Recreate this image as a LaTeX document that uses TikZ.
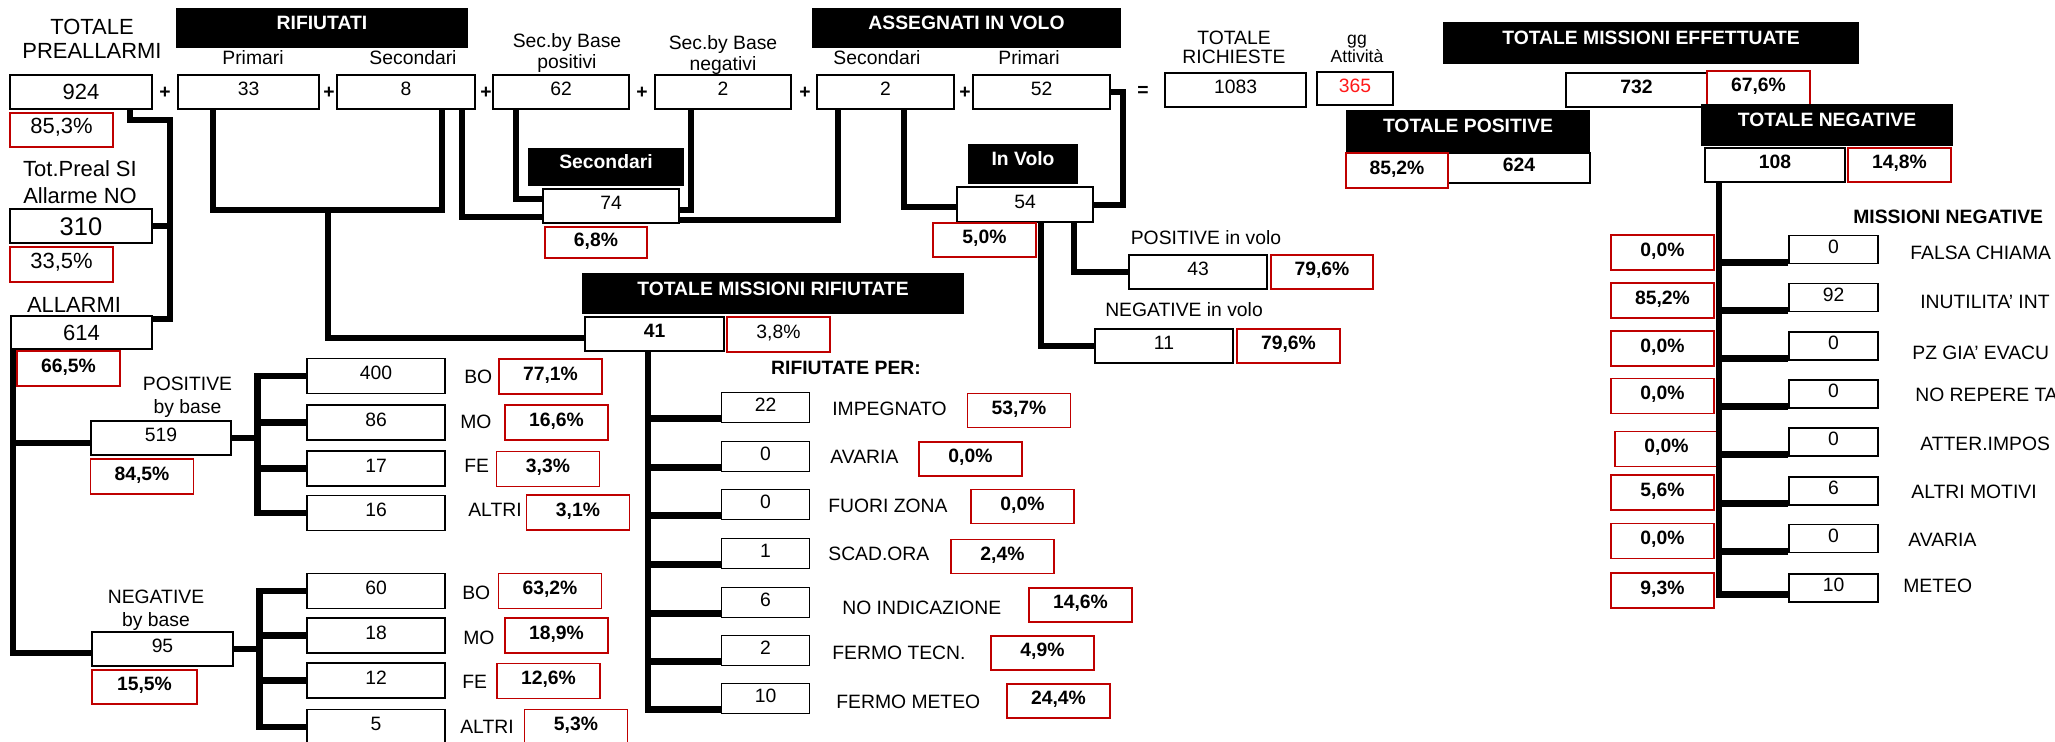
\documentclass[tikz,border=0pt]{standalone}
\usepackage{fontspec}
\setmainfont{Liberation Sans}
\usepackage[dvipsnames]{xcolor}
\colorlet{colorPct}{red!75!black}
\colorlet{colorDays}{red!90!white}
\usepackage{tikz}

\begin{document}
\begin{tikzpicture}[x=0.02cm, y=-0.02cm,
  every node/.style={font=\fontsize{11}{13}\selectfont, inner sep=0pt},
  sz/.style 2 args={minimum width=#1*0.02cm, minimum height=#2*0.02cm},
  num/.style={draw=black, line width=0.9pt, fill=white, text height=0.28cm, text depth=0.12cm},
  bnum/.style={num, font=\fontsize{11}{13}\selectfont\bfseries},
  bignum/.style={num, font=\fontsize{12.5}{15}\selectfont, text height=0.32cm, text depth=0cm},
  pct/.style={draw=colorPct, line width=0.9pt, fill=white, text height=0.28cm, text depth=0.12cm, font=\fontsize{11}{13}\selectfont\bfseries},
  rpct/.style={pct, font=\fontsize{12.5}{15}\selectfont},
  hdr/.style={fill=black, text=white, font=\fontsize{11}{13}\selectfont\bfseries, text height=0.28cm, text depth=0.2cm},
  lbl/.style={align=center},
  link/.style={line width=3.8pt}]
\useasboundingbox (0,0) rectangle (2055,742);
\fill[white] (0,0) rectangle (2055,742);
\clip (0,0) rectangle (2055,742);

\node[lbl, font=\fontsize{12.5}{13.6}\selectfont] (tpl) at (92,39) {TOTALE\\PREALLARMI};
\node[bignum, sz={142}{34}] (pre) at (81,92) {924};
\node[rpct, sz={103}{34}] (prepct) at (61.5,130) {85,3\%};
\node[lbl, font=\fontsize{12.5}{15.3}\selectfont] (ltps) at (80,182.5) {Tot.Preal SI\\Allarme NO};
\node[num, sz={142}{34}, font=\fontsize{14.5}{17}\selectfont, text height=0.37cm, text depth=0cm] (sino) at (81,226) {310};
\node[rpct, sz={103}{35}] (sinopct) at (61.5,264.5) {33,5\%};
\node[font=\fontsize{12.5}{15}\selectfont] (lall) at (74,305) {ALLARMI};
\node[bignum, sz={141}{33}] (all) at (81.5,332.5) {614};
\node[pct, sz={103}{35}] (allpct) at (68.5,368.5) {66,5\%};

\node[hdr, sz={292}{40}] (hrif) at (322,28) {RIFIUTATI};
\node (lrp) at (253,58) {Primari};
\node (lrs) at (413,58) {Secondari};
\node[num, sz={141}{34}] (rp) at (248.5,92) {33};
\node[num, sz={138}{34}] (rs) at (406,92) {8};
\node[lbl, font=\fontsize{11}{11.4}\selectfont] (lsbp) at (567,53) {Sec.by Base\\positivi};
\node[num, sz={136}{34}] (sbp) at (561,92) {62};
\node[lbl, font=\fontsize{11}{11.4}\selectfont] (lsbn) at (723,55) {Sec.by Base\\negativi};
\node[num, sz={136}{34}] (sbn) at (723,92) {2};
\node[hdr, sz={309}{40}] (hass) at (966.5,28) {ASSEGNATI IN VOLO};
\node (las) at (877,58) {Secondari};
\node (lap) at (1029,58) {Primari};
\node[num, sz={137}{34}] (as) at (885.5,92) {2};
\node[num, sz={137}{34}] (ap) at (1041.5,92) {52};
\node[font=\fontsize{11}{13}\selectfont\bfseries] (pl1) at (165,93) {+};
\node[font=\fontsize{11}{13}\selectfont\bfseries] (pl2) at (329,93) {+};
\node[font=\fontsize{11}{13}\selectfont\bfseries] (pl3) at (486,93) {+};
\node[font=\fontsize{11}{13}\selectfont\bfseries] (pl4) at (642,93) {+};
\node[font=\fontsize{11}{13}\selectfont\bfseries] (pl5) at (805,93) {+};
\node[font=\fontsize{11}{13}\selectfont\bfseries] (pl6) at (965,93) {+};
\node[font=\fontsize{11}{13}\selectfont\bfseries] (eq) at (1143,91) {=};
\node[lbl, font=\fontsize{11}{10.8}\selectfont] (lric) at (1234,47.5) {TOTALE\\RICHIESTE};
\node[num, sz={141}{34}] (ric) at (1235.5,90) {1083};
\node[lbl, font=\fontsize{10}{10.2}\selectfont] (lgg) at (1357,49) {gg\\Attività};
\node[num, sz={76}{33}, text=colorDays] (gg) at (1355,88.5) {365};

\node[hdr, sz={416}{42}] (heff) at (1651,43) {TOTALE MISSIONI EFFETTUATE};
\node[bnum, sz={141}{34}] (eff) at (1636.5,90) {732};
\node[pct, sz={103}{34}] (effpct) at (1758.5,88) {67,6\%};
\node[hdr, sz={244}{42}] (hpos) at (1468,131) {TOTALE POSITIVE};
\node[bnum, sz={142}{30}] (pos) at (1519,168) {624};
\node[pct, sz={102}{35}] (pospct) at (1397,170.5) {85,2\%};
\node[hdr, sz={252}{42}] (hneg) at (1827,125) {TOTALE NEGATIVE};
\node[bnum, sz={140}{34}] (neg) at (1775,165) {108};
\node[pct, sz={103}{34}] (negpct) at (1899.5,165) {14,8\%};

\node[hdr, sz={156}{38}] (hsec) at (606,167) {Secondari};
\node[num, sz={136}{34}] (sec) at (611,206) {74};
\node[pct, sz={102}{31}] (secpct) at (596,242.5) {6,8\%};
\node[hdr, sz={110}{40}] (hvol) at (1023,164) {In Volo};
\node[num, sz={136}{35}] (vol) at (1025,204.5) {54};
\node[pct, sz={103}{34}] (volpct) at (984.5,240) {5,0\%};
\node (lpv) at (1206,238) {POSITIVE in volo};
\node[num, sz={138}{34}] (pv) at (1198,272) {43};
\node[pct, sz={102}{34}] (pvpct) at (1322,272) {79,6\%};
\node (lnv) at (1184,310) {NEGATIVE in volo};
\node[num, sz={138}{34}] (nv) at (1164,346) {11};
\node[pct, sz={103}{34}] (nvpct) at (1288.5,346) {79,6\%};

\node[hdr, sz={382}{41}] (hmr) at (773,293.5) {TOTALE MISSIONI RIFIUTATE};
\node[bnum, sz={139}{34}] (rif) at (654.5,334) {41};
\node[pct, sz={103}{35}, font=\fontsize{11}{13}\selectfont] (rifpct) at (778.5,334.5) {3,8\%};
\node[font=\fontsize{11}{13}\selectfont\bfseries] (lper) at (846,368) {RIFIUTATE PER:};
\node[num, sz={88}{30}] (r1) at (765.5,407.5) {22};
\node[num, sz={88}{30}] (r2) at (765.5,456.5) {0};
\node[num, sz={88}{30}] (r3) at (765.5,504.5) {0};
\node[num, sz={88}{30}] (r4) at (765.5,553.5) {1};
\node[num, sz={88}{30}] (r5) at (765.5,602.5) {6};
\node[num, sz={88}{30}] (r6) at (765.5,650.5) {2};
\node[num, sz={88}{30}] (r7) at (765.5,698.5) {10};
\node[anchor=west] (rl1) at (832,409) {IMPEGNATO};
\node[anchor=west] (rl2) at (830,457) {AVARIA};
\node[anchor=west] (rl3) at (828,506) {FUORI ZONA};
\node[anchor=west] (rl4) at (828,554) {SCAD.ORA};
\node[anchor=west] (rl5) at (842,608) {NO INDICAZIONE};
\node[anchor=west] (rl6) at (832,653) {FERMO TECN.};
\node[anchor=west] (rl7) at (836,702) {FERMO METEO};
\node[pct, sz={103}{34}] (rp1) at (1019,410.5) {53,7\%};
\node[pct, sz={103}{34}] (rp2) at (970.5,459) {0,0\%};
\node[pct, sz={103}{34}] (rp3) at (1022.5,506.5) {0,0\%};
\node[pct, sz={103}{34}] (rp4) at (1002.5,556.5) {2,4\%};
\node[pct, sz={103}{34}] (rp5) at (1080.5,605) {14,6\%};
\node[pct, sz={103}{34}] (rp6) at (1042.5,653) {4,9\%};
\node[pct, sz={103}{34}] (rp7) at (1058.5,701) {24,4\%};

\node[lbl] (lpb) at (187.5,397.5) {POSITIVE\\by base};
\node[num, sz={140}{34}] (pb) at (161,438) {519};
\node[pct, sz={103}{35}] (pbpct) at (142,476.5) {84,5\%};
\node[num, sz={138}{35}] (pb1) at (376,376) {400};
\node[num, sz={138}{35}] (pb2) at (376,422.5) {86};
\node[num, sz={138}{35}] (pb3) at (376,468.5) {17};
\node[num, sz={138}{35}] (pb4) at (376,513) {16};
\node[anchor=west] (pbl1) at (464,377) {BO};
\node[anchor=west] (pbl2) at (460,422) {MO};
\node[anchor=west] (pbl3) at (464,466) {FE};
\node[anchor=west] (pbl4) at (468,510) {ALTRI};
\node[pct, sz={103}{35}] (pbp1) at (550.5,376.5) {77,1\%};
\node[pct, sz={103}{35}] (pbp2) at (556.5,422.5) {16,6\%};
\node[pct, sz={103}{35}] (pbp3) at (548,469) {3,3\%};
\node[pct, sz={103}{35}] (pbp4) at (578,512.5) {3,1\%};

\node[lbl] (lnb) at (156,610.5) {NEGATIVE\\by base};
\node[num, sz={141}{34}] (nb) at (162.5,649) {95};
\node[pct, sz={105}{34}] (nbpct) at (144.5,687) {15,5\%};
\node[num, sz={138}{35}] (nb1) at (376,591) {60};
\node[num, sz={138}{35}] (nb2) at (376,635.5) {18};
\node[num, sz={138}{35}] (nb3) at (376,680.5) {12};
\node[num, sz={138}{35}] (nb4) at (376,727) {5};
\node[anchor=west] (nbl1) at (462,593) {BO};
\node[anchor=west] (nbl2) at (463,638) {MO};
\node[anchor=west] (nbl3) at (462,682) {FE};
\node[anchor=west] (nbl4) at (460,727) {ALTRI};
\node[pct, sz={103}{35}] (nbp1) at (550,591) {63,2\%};
\node[pct, sz={103}{35}] (nbp2) at (556.5,635.5) {18,9\%};
\node[pct, sz={103}{35}] (nbp3) at (548.5,681) {12,6\%};
\node[pct, sz={103}{35}] (nbp4) at (576,727) {5,3\%};

\node[anchor=west, font=\fontsize{11}{13}\selectfont\bfseries] (lmn) at (1853,217) {MISSIONI NEGATIVE};
\node[num, sz={89}{28}] (m1) at (1833.5,249.5) {0};
\node[num, sz={89}{28}] (m2) at (1833.5,297.5) {92};
\node[num, sz={89}{28}] (m3) at (1833.5,346) {0};
\node[num, sz={89}{28}] (m4) at (1833.5,394) {0};
\node[num, sz={89}{28}] (m5) at (1833.5,442) {0};
\node[num, sz={89}{28}] (m6) at (1833.5,491) {6};
\node[num, sz={89}{28}] (m7) at (1833.5,538.5) {0};
\node[num, sz={89}{28}] (m8) at (1833.5,588) {10};
\node[anchor=west] (ml1) at (1910,253) {FALSA CHIAMA};
\node[anchor=west] (ml2) at (1920,302) {INUTILITA' INT};
\node[anchor=west] (ml3) at (1912,353) {PZ GIA' EVACU};
\node[anchor=west] (ml4) at (1915,395) {NO REPERE TA};
\node[anchor=west] (ml5) at (1920,444) {ATTER.IMPOS};
\node[anchor=west] (ml6) at (1911,492) {ALTRI MOTIVI};
\node[anchor=west] (ml7) at (1908,540) {AVARIA};
\node[anchor=west] (ml8) at (1903,586) {METEO};
\node[pct, sz={103}{35}] (mp1) at (1662.5,252.5) {0,0\%};
\node[pct, sz={103}{35}] (mp2) at (1662.5,300.5) {85,2\%};
\node[pct, sz={103}{35}] (mp3) at (1662.5,348.5) {0,0\%};
\node[pct, sz={103}{35}] (mp4) at (1662.5,396) {0,0\%};
\node[pct, sz={103}{35}] (mp5) at (1666.5,449) {0,0\%};
\node[pct, sz={103}{35}] (mp6) at (1662.5,492.5) {5,6\%};
\node[pct, sz={103}{35}] (mp7) at (1662.5,541) {0,0\%};
\node[pct, sz={103}{35}] (mp8) at (1662.5,590.5) {9,3\%};

\coordinate (rj) at (328,210);
\draw[link] (pre.south -| 130,0) |- (170,120) |- (all.east |- 0,319);
\draw[link] (sino.east) -- (sino.east -| 170,0);
\draw[link] (rp.south -| 213,0) |- (442,210) -- (rs.south -| 442,0);
\draw[link] (rj) |- (rif.west |- 0,338);
\draw[link] (rs.south -| 462,0) |- (sec.west |- 0,217);
\draw[link] (sbp.south -| 516,0) |- (sec.west |- 0,199);
\draw[link] (sbn.south -| 691,0) |- (sec.east |- 0,210);
\draw[link] (as.south -| 838,0) |- (sec.east |- 0,220);
\draw[link] (as.south -| 904,0) |- (vol.west |- 0,207);
\draw[link] (ap.east) -| (1123,205) -- (vol.east |- 0,205);
\draw[link] (vol.south -| 1074,0) |- (pv.west);
\draw[link] (vol.south -| 1041,0) |- (nv.west);
\draw[link] (all.south -| 13,0) |- (pb.west |- 0,443);
\draw[link] (all.south -| 13,0) |- (nb.west |- 0,653);
\draw[link] (pb.east) -- ++(26,0) |- (pb1.west);
\draw[link] (pb.east) -- ++(26,0) |- (pb2.west);
\draw[link] (pb.east) -- ++(26,0) |- (pb3.west);
\draw[link] (pb.east) -- ++(26,0) |- (pb4.west);
\draw[link] (nb.east) -- ++(26,0) |- (nb1.west);
\draw[link] (nb.east) -- ++(26,0) |- (nb2.west);
\draw[link] (nb.east) -- ++(26,0) |- (nb3.west);
\draw[link] (nb.east) -- ++(26,0) |- (nb4.west);
\draw[link] ([yshift=0.1cm]r1.south west) -| (rif.south -| 648,0);
\draw[link] ([yshift=0.1cm]r2.south west) -| (rif.south -| 648,0);
\draw[link] ([yshift=0.1cm]r3.south west) -| (rif.south -| 648,0);
\draw[link] ([yshift=0.1cm]r4.south west) -| (rif.south -| 648,0);
\draw[link] ([yshift=0.1cm]r5.south west) -| (rif.south -| 648,0);
\draw[link] ([yshift=0.1cm]r6.south west) -| (rif.south -| 648,0);
\draw[link] ([yshift=0.1cm]r7.south west) -| (rif.south -| 648,0);
\draw[link] ([yshift=0.04cm]m1.south west) -| (neg.south -| 1719,0);
\draw[link] ([yshift=0.04cm]m2.south west) -| (neg.south -| 1719,0);
\draw[link] ([yshift=0.04cm]m3.south west) -| (neg.south -| 1719,0);
\draw[link] ([yshift=0.04cm]m4.south west) -| (neg.south -| 1719,0);
\draw[link] ([yshift=0.04cm]m5.south west) -| (neg.south -| 1719,0);
\draw[link] ([yshift=0.04cm]m6.south west) -| (neg.south -| 1719,0);
\draw[link] ([yshift=0.04cm]m7.south west) -| (neg.south -| 1719,0);
\draw[link] ([yshift=0.16cm]m8.south west) -| (neg.south -| 1719,0);
\end{tikzpicture}
\end{document}
